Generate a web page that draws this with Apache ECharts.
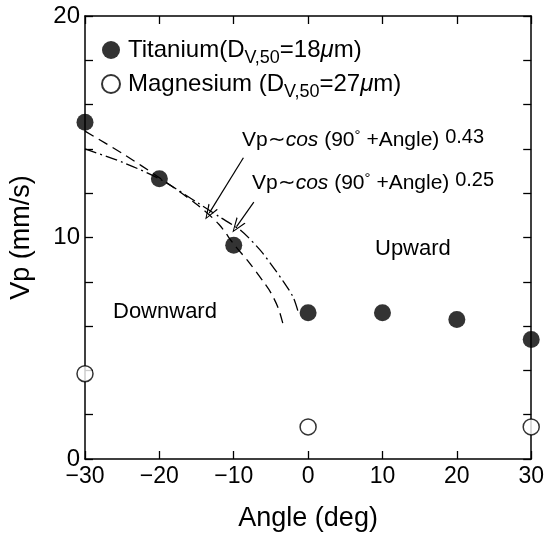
<!DOCTYPE html>
<html><head><meta charset="utf-8">
<script src="https://cdn.jsdelivr.net/npm/echarts@6/dist/echarts.min.js"></script>
<style>html,body{margin:0;padding:0;background:#fff}#c{width:547px;height:537px}</style>
</head><body><div id="c"></div>
<script>
// ---- data ----
const angles = [-30, -20, -10, 0, 10, 20, 30];
const titanium = [15.2, 12.65, 9.65, 6.6, 6.6, 6.3, 5.4];
const magAngles = [-30, 0, 30];
const magnesium = [3.85, 1.45, 1.45];
// curve Vp~cos(90°+Angle)^0.43 (dashed)
const fit043X = [-30, -25, -20, -15, -12, -10, -8, -6, -5, -4, -3.3];
const fit043Y = [14.8, 13.8, 12.7, 11.5, 10.6, 9.7, 8.9, 8.0, 7.5, 6.8, 6.0];
// curve Vp~cos(90°+Angle)^0.25 (dash-dot)
const fit025X = [-30, -25, -20, -15, -12, -9, -6.5, -5, -3.3, -2, -1.3];
const fit025Y = [14.0, 13.4, 12.65, 11.6, 10.95, 10.3, 9.45, 8.8, 8.0, 7.3, 6.6];
// annotation arrows [start, tip] in data units
const arrow043 = [[-8.7, 13.6], [-13.3, 11.1]];
const arrow025 = [[-7.3, 11.6], [-9.6, 10.5]];
const yLabelValues = [0, 10, 20];

const zip = (xs, ys) => xs.map((x, i) => [x, ys[i]]);
const FONT = '"Liberation Sans", Arial, Helvetica, sans-serif';
const chevron = 'path://M5,0 L10,14 L8.8,14 L5,2.6 L1.2,14 L0,14 Z';

const chart = echarts.init(document.getElementById('c'));
const axisCommon = {
  axisLine: {show: true, onZero: false, lineStyle: {color: '#000', width: 1.5}},
  axisTick: {show: true, inside: true, length: 8, lineStyle: {color: '#000', width: 1.3}},
  splitLine: {show: false}
};
const richLegend = {
  n: {fontSize: 24, fontFamily: FONT, color: '#000', lineHeight: 26},
  s: {fontSize: 18, fontFamily: FONT, color: '#000', lineHeight: 26, padding: [16, 0, 0, 0]},
  u: {fontSize: 24, fontFamily: FONT, fontStyle: 'italic', color: '#000', lineHeight: 26},
  g: {width: 3}
};
const richAnn = {
  n: {fontSize: 21, fontFamily: FONT, color: '#000', lineHeight: 24},
  i: {fontSize: 21, fontFamily: FONT, fontStyle: 'italic', color: '#000', lineHeight: 24},
  d: {fontSize: 15, fontFamily: FONT, color: '#000', lineHeight: 24, padding: [0, 0, 10, 0]},
  p: {fontSize: 20, fontFamily: FONT, color: '#000', lineHeight: 24, padding: [0, 0, 7, 0]}
};
chart.setOption({
  animation: false,
  backgroundColor: '#fff',
  grid: {left: 82, right: 15, top: 16, bottom: 77},
  legend: {
    data: ['Titanium', 'Magnesium'],
    orient: 'vertical', left: 96, top: 28, itemGap: 0,
    itemWidth: 18, itemHeight: 18,
    selectedMode: false,
    formatter: function (name) {
      if (name === 'Titanium') return '{g|}{n|Titanium(D}{s|V,50}{n|=18}{u|μ}{n|m)}';
      return '{g|}{n|Magnesium (D}{s|V,50}{n|=27}{u|μ}{n|m)}';
    },
    textStyle: {rich: richLegend}
  },
  xAxis: [
    Object.assign({}, axisCommon, {
      type: 'value', min: -30, max: 30, interval: 10, position: 'bottom',
      name: 'Angle (deg)', nameLocation: 'middle', nameGap: 46,
      nameTextStyle: {fontSize: 27, fontFamily: FONT, color: '#000'},
      axisLabel: {color: '#000', fontSize: 23, fontFamily: FONT, margin: 6,
        formatter: v => String(v).replace('-', '\u2212')}
    }),
    Object.assign({}, axisCommon, {
      type: 'value', min: -30, max: 30, interval: 10, position: 'top',
      axisLabel: {show: false}
    })
  ],
  yAxis: [
    Object.assign({}, axisCommon, {
      type: 'value', min: 0, max: 20, interval: 2, position: 'left',
      name: 'Vp (mm/s)', nameLocation: 'middle', nameGap: 50, nameRotate: 90,
      nameTextStyle: {fontSize: 27, fontFamily: FONT, color: '#000'},
      axisLabel: {color: '#000', fontSize: 24, fontFamily: FONT, margin: 5,
        formatter: v => yLabelValues.indexOf(v) >= 0 ? String(v) : ''}
    }),
    Object.assign({}, axisCommon, {
      type: 'value', min: 0, max: 20, interval: 2, position: 'right',
      axisLabel: {show: false}
    })
  ],
  series: [
    {
      name: 'fit043', type: 'line', data: zip(fit043X, fit043Y), smooth: 0.3,
      showSymbol: false, symbol: 'none', silent: true, z: 1,
      lineStyle: {color: '#000', width: 1.3, type: [10, 6]},
      markLine: {
        silent: true, symbol: ['none', chevron], symbolSize: [11, 15],
        label: {show: false}, lineStyle: {color: '#000', width: 1.2, type: 'solid'},
        data: [[{coord: arrow043[0]}, {coord: arrow043[1]}]]
      }
    },
    {
      name: 'fit025', type: 'line', data: zip(fit025X, fit025Y), smooth: 0.3,
      showSymbol: false, symbol: 'none', silent: true, z: 1,
      lineStyle: {color: '#000', width: 1.3, type: [12, 4, 2, 4]},
      markLine: {
        silent: true, symbol: ['none', chevron], symbolSize: [11, 15],
        label: {show: false}, lineStyle: {color: '#000', width: 1.2, type: 'solid'},
        data: [[{coord: arrow025[0]}, {coord: arrow025[1]}]]
      }
    },
    {
      name: 'Titanium', type: 'scatter', data: zip(angles, titanium),
      symbol: 'circle', symbolSize: 17, z: 3,
      itemStyle: {color: '#000'}
    },
    {
      name: 'Magnesium', type: 'scatter', data: zip(magAngles, magnesium),
      symbol: 'circle', symbolSize: 16, z: 3,
      itemStyle: {color: '#fff', borderColor: '#000', borderWidth: 1.5}
    }
  ],
  graphic: [
    {type: 'text', left: 242, top: 127, style: {
      text: '{n|Vp\u223C}{i|cos}{n| (90}{d|°}{n| +Angle) }{p|0.43}', rich: richAnn}},
    {type: 'text', left: 252, top: 170, style: {
      text: '{n|Vp\u223C}{i|cos}{n| (90}{d|°}{n| +Angle) }{p|0.25}', rich: richAnn}},
    {type: 'text', left: 375, top: 238, style: {
      text: 'Upward', fontSize: 22, fontFamily: FONT, fill: '#000'}},
    {type: 'text', left: 113, top: 301, style: {
      text: 'Downward', fontSize: 22, fontFamily: FONT, fill: '#000'}}
  ]
});
</script>
</body></html>
